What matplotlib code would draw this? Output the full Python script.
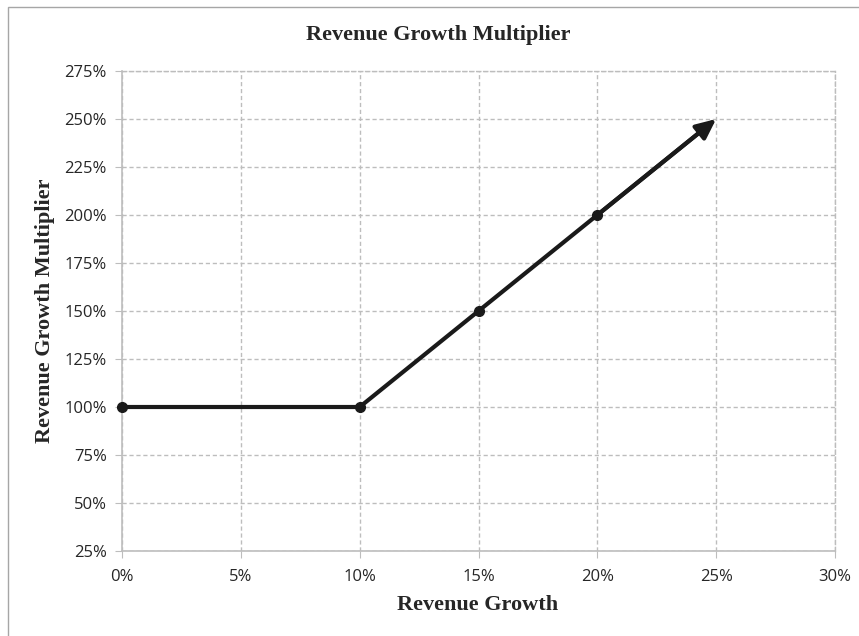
import matplotlib.pyplot as plt
from matplotlib.patches import Rectangle
from matplotlib.ticker import FuncFormatter

growth = [0, 10, 15, 20, 25]          # revenue growth, %
multiplier = [100, 100, 150, 200, 250]  # multiplier, %
x_ticks = [0, 5, 10, 15, 20, 25, 30]
y_ticks = [25, 50, 75, 100, 125, 150, 175, 200, 225, 250, 275]

W, H = 859, 636
fig = plt.figure(figsize=(W / 100, H / 100), dpi=100)
ax = fig.add_axes([122 / W, (H - 551) / H, (835 - 122) / W, (551 - 71) / H])

grid_c = "#bdbdbd"
ax.set_xlim(0, 30)
ax.set_ylim(25, 275)
ax.set_xticks(x_ticks)
ax.set_yticks(y_ticks)
ax.xaxis.set_major_formatter(FuncFormatter(lambda v, p: f"{v:.0f}%"))
ax.yaxis.set_major_formatter(FuncFormatter(lambda v, p: f"{v:.0f}%"))
ax.grid(True, color=grid_c, linestyle=(0, (3, 2)), linewidth=1)
ax.set_axisbelow(True)
for s in ["top", "right"]:
    ax.spines[s].set_color(grid_c)
    ax.spines[s].set_linestyle((0, (3, 2)))
    ax.spines[s].set_linewidth(1)
for s in ["left", "bottom"]:
    ax.spines[s].set_color(grid_c)
    ax.spines[s].set_linewidth(1.2)
ax.tick_params(axis="both", direction="out", length=5, color=grid_c,
               labelsize=12, labelcolor="#262626")
ax.tick_params(axis="x", pad=8)
ax.tick_params(axis="y", pad=6)
for lab in ax.get_xticklabels() + ax.get_yticklabels():
    lab.set_fontfamily("Open Sans")

# line through the points, ending in an arrow at the last one
ax.plot(growth[:-1] + [growth[-1] - 0.55],
        multiplier[:-1] + [multiplier[-1] - 5.5],
        color="#1a1a1a", linewidth=3, solid_capstyle="butt", zorder=3,
        clip_on=False)
ax.plot(growth[:-1], multiplier[:-1], "o", color="#1a1a1a",
        markersize=7, zorder=4, clip_on=False)
ax.annotate("", xy=(growth[-1], multiplier[-1]),
            xytext=(growth[-2], multiplier[-2]),
            arrowprops=dict(arrowstyle="-|>,head_length=1.2,head_width=0.55",
                            color="#1a1a1a", lw=3, shrinkA=0, shrinkB=0),
            zorder=5)

serif = "Liberation Serif"
fig.text(438 / W, 1 - 35 / H, "Revenue Growth Multiplier", ha="center",
         va="center", fontsize=16, fontweight="bold", family=serif,
         color="#262626")
fig.text(478 / W, 1 - 605 / H, "Revenue Growth", ha="center", va="center",
         fontsize=16, fontweight="bold", family=serif, color="#262626")
fig.text(45 / W, 1 - 311 / H, "Revenue Growth Multiplier", ha="center",
         va="center", rotation=90, fontsize=16, fontweight="bold",
         family=serif, color="#262626")

# chart border
fig.patches.append(Rectangle((8 / W, -0.1), 1.2, 1 - 7 / H + 0.1,
                             transform=fig.transFigure, fill=False,
                             edgecolor="#a6a6a6", linewidth=1))

fig.savefig("out.png", dpi=100)
